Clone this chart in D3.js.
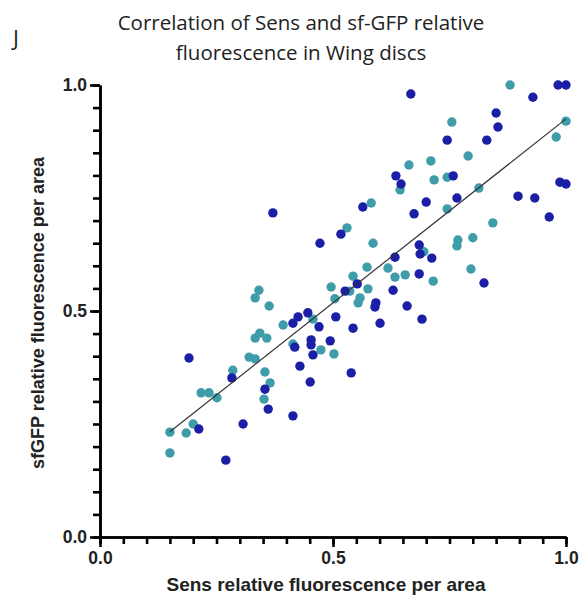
<!DOCTYPE html>
<html>
<head>
<meta charset="utf-8">
<script src="https://cdn.jsdelivr.net/npm/d3@7"></script>
<style>
  body { margin: 0; background: #fff; }
  svg { display: block; }
  .axis line, .axis path { stroke: #000 !important; stroke-width: 2.6px !important; }
  .axis text { font-family: "Liberation Sans", Arial, sans-serif !important; font-weight: bold !important; font-size: 17.5px !important; fill: #222 !important; }
</style>
</head>
<body>
<div id="chart"></div>
<script>
// Werte (Sens = x, sfGFP = y)
const darkX = [0.371, 0.472, 0.517, 0.564, 0.983, 1.0, 0.667, 0.929, 0.850, 0.854,
  0.745, 0.830, 0.635, 0.758, 0.646, 0.987, 1.0, 0.700, 0.766, 0.897,
  0.933, 0.674, 0.964, 0.685, 0.687, 0.633, 0.712, 0.685, 0.824, 0.552,
  0.526, 0.629, 0.592, 0.590, 0.659, 0.691, 0.601, 0.446, 0.425, 0.414,
  0.470, 0.506, 0.543, 0.453, 0.453, 0.494, 0.418, 0.457, 0.191, 0.429,
  0.283, 0.539, 0.451, 0.354, 0.361, 0.414, 0.307, 0.212, 0.270];
const darkY = [0.717, 0.650, 0.670, 0.730, 1.0, 1.0, 0.980, 0.973, 0.938, 0.907,
  0.878, 0.878, 0.799, 0.799, 0.781, 0.785, 0.781, 0.741, 0.750, 0.754,
  0.750, 0.715, 0.708, 0.646, 0.626, 0.619, 0.617, 0.582, 0.562, 0.560,
  0.544, 0.546, 0.518, 0.509, 0.511, 0.482, 0.473, 0.496, 0.487, 0.473,
  0.465, 0.487, 0.462, 0.436, 0.425, 0.434, 0.420, 0.403, 0.396, 0.378,
  0.352, 0.363, 0.343, 0.327, 0.283, 0.268, 0.250, 0.239, 0.170];

const tealX = [0.530, 0.880, 0.755, 1.0, 0.979, 0.790, 0.663, 0.710, 0.717, 0.745,
  0.644, 0.813, 0.582, 0.745, 0.843, 0.586, 0.768, 0.800, 0.766, 0.695,
  0.573, 0.618, 0.633, 0.655, 0.796, 0.715, 0.575, 0.558, 0.543, 0.496,
  0.536, 0.504, 0.554, 0.341, 0.333, 0.363, 0.393, 0.457, 0.343, 0.333,
  0.358, 0.414, 0.474, 0.502, 0.320, 0.333, 0.285, 0.354, 0.365, 0.217,
  0.234, 0.251, 0.352, 0.200, 0.150, 0.185, 0.150];
const tealY = [0.684, 1.0, 0.918, 0.920, 0.885, 0.843, 0.823, 0.832, 0.790, 0.796,
  0.768, 0.772, 0.739, 0.726, 0.695, 0.650, 0.657, 0.662, 0.644, 0.631,
  0.597, 0.595, 0.575, 0.580, 0.593, 0.566, 0.549, 0.529, 0.577, 0.553,
  0.544, 0.527, 0.518, 0.546, 0.529, 0.511, 0.469, 0.482, 0.451, 0.440,
  0.440, 0.427, 0.414, 0.405, 0.398, 0.394, 0.369, 0.365, 0.341, 0.319,
  0.319, 0.308, 0.305, 0.250, 0.232, 0.230, 0.186];

const fitX = [0.150, 1.0];
const fitY = [0.233, 0.925];

const majorTicks = [0, 0.5, 1.0];

const W = 579, H = 601;
const margin = { top: 85, right: 13, bottom: 64, left: 100 };
const plotW = W - margin.left - margin.right;
const plotH = H - margin.top - margin.bottom;

const svg = d3.select("#chart")
  .append("svg")
  .attr("width", W)
  .attr("height", H);

// Titel
svg.append("text")
  .attr("x", 13).attr("y", 46)
  .attr("font-family", "'Open Sans', sans-serif")
  .attr("font-size", 22)
  .attr("fill", "#222")
  .text("J");

const title = svg.append("text")
  .attr("text-anchor", "middle")
  .attr("font-family", "'Open Sans', sans-serif")
  .attr("font-size", 20.5)
  .attr("fill", "#222");
title.append("tspan").attr("x", 301).attr("y", 30).text("Correlation of Sens and sf-GFP relative");
title.append("tspan").attr("x", 301).attr("y", 60).text("fluorescence in Wing discs");

const xScale = d3.scaleLinear().domain([0, 1]).range([0, plotW]);
const yScale = d3.scaleLinear().domain([0, 1]).range([plotH, 0]);

const innerChart = svg.append("g")
  .attr("transform", `translate(${margin.left}, ${margin.top})`);

// Achsen schwarz und dick machen, Beschriftung fett
const styleAxis = g => {
  g.attr("class", "axis")
    .attr("font-size", 17.5)
    .attr("font-weight", "bold")
    .attr("font-family", "'Liberation Sans', Arial, sans-serif");
  g.selectAll("path, line")
    .attr("stroke", "#000")
    .attr("stroke-width", 2.6);
  g.selectAll("text")
    .attr("fill", "#222");
};

// kleine Ticks alle 0.05
const minorTicks = d3.range(0, 21).map(i => i / 20);

innerChart.append("g")
  .attr("transform", `translate(0, ${plotH})`)
  .call(d3.axisBottom(xScale).tickValues(minorTicks).tickSize(7).tickSizeOuter(0).tickFormat(() => ""))
  .call(styleAxis);
innerChart.append("g")
  .attr("transform", `translate(0, ${plotH})`)
  .call(d3.axisBottom(xScale).tickValues(majorTicks).tickSize(10).tickSizeOuter(0).tickPadding(5).tickFormat(d3.format(".1f")))
  .call(styleAxis);

innerChart.append("g")
  .call(d3.axisLeft(yScale).tickValues(minorTicks).tickSize(7).tickSizeOuter(0).tickFormat(() => ""))
  .call(styleAxis);
innerChart.append("g")
  .call(d3.axisLeft(yScale).tickValues(majorTicks).tickSize(10).tickSizeOuter(0).tickPadding(3).tickFormat(d3.format(".1f")))
  .call(styleAxis);

// Punkte
const tealData = tealX.map((x, i) => ({ x, y: tealY[i] }));
const darkData = darkX.map((x, i) => ({ x, y: darkY[i] }));

innerChart.append("g")
  .selectAll("circle")
  .data(tealData)
  .join("circle")
  .attr("cx", d => xScale(d.x))
  .attr("cy", d => yScale(d.y))
  .attr("r", 4.7)
  .attr("fill", "#3f9daa");

innerChart.append("g")
  .selectAll("circle")
  .data(darkData)
  .join("circle")
  .attr("cx", d => xScale(d.x))
  .attr("cy", d => yScale(d.y))
  .attr("r", 4.7)
  .attr("fill", "#1b1fa6");

// Gerade
innerChart.append("path")
  .datum(fitX.map((x, i) => [x, fitY[i]]))
  .attr("d", d3.line().x(d => xScale(d[0])).y(d => yScale(d[1])))
  .attr("stroke", "#333")
  .attr("stroke-width", 1.2)
  .attr("fill", "none");

// Achsenbeschriftungen
svg.append("text")
  .attr("x", 326)
  .attr("y", 591)
  .attr("text-anchor", "middle")
  .attr("font-family", "'Liberation Sans', Arial, sans-serif")
  .attr("font-weight", "bold")
  .attr("font-size", 19)
  .attr("fill", "#222")
  .text("Sens relative fluorescence per area");

svg.append("text")
  .attr("transform", `translate(44, 313) rotate(-90)`)
  .attr("text-anchor", "middle")
  .attr("font-family", "'Liberation Sans', Arial, sans-serif")
  .attr("font-weight", "bold")
  .attr("font-size", 18)
  .attr("fill", "#222")
  .text("sfGFP relative fluorescence per area");
</script>
</body>
</html>
